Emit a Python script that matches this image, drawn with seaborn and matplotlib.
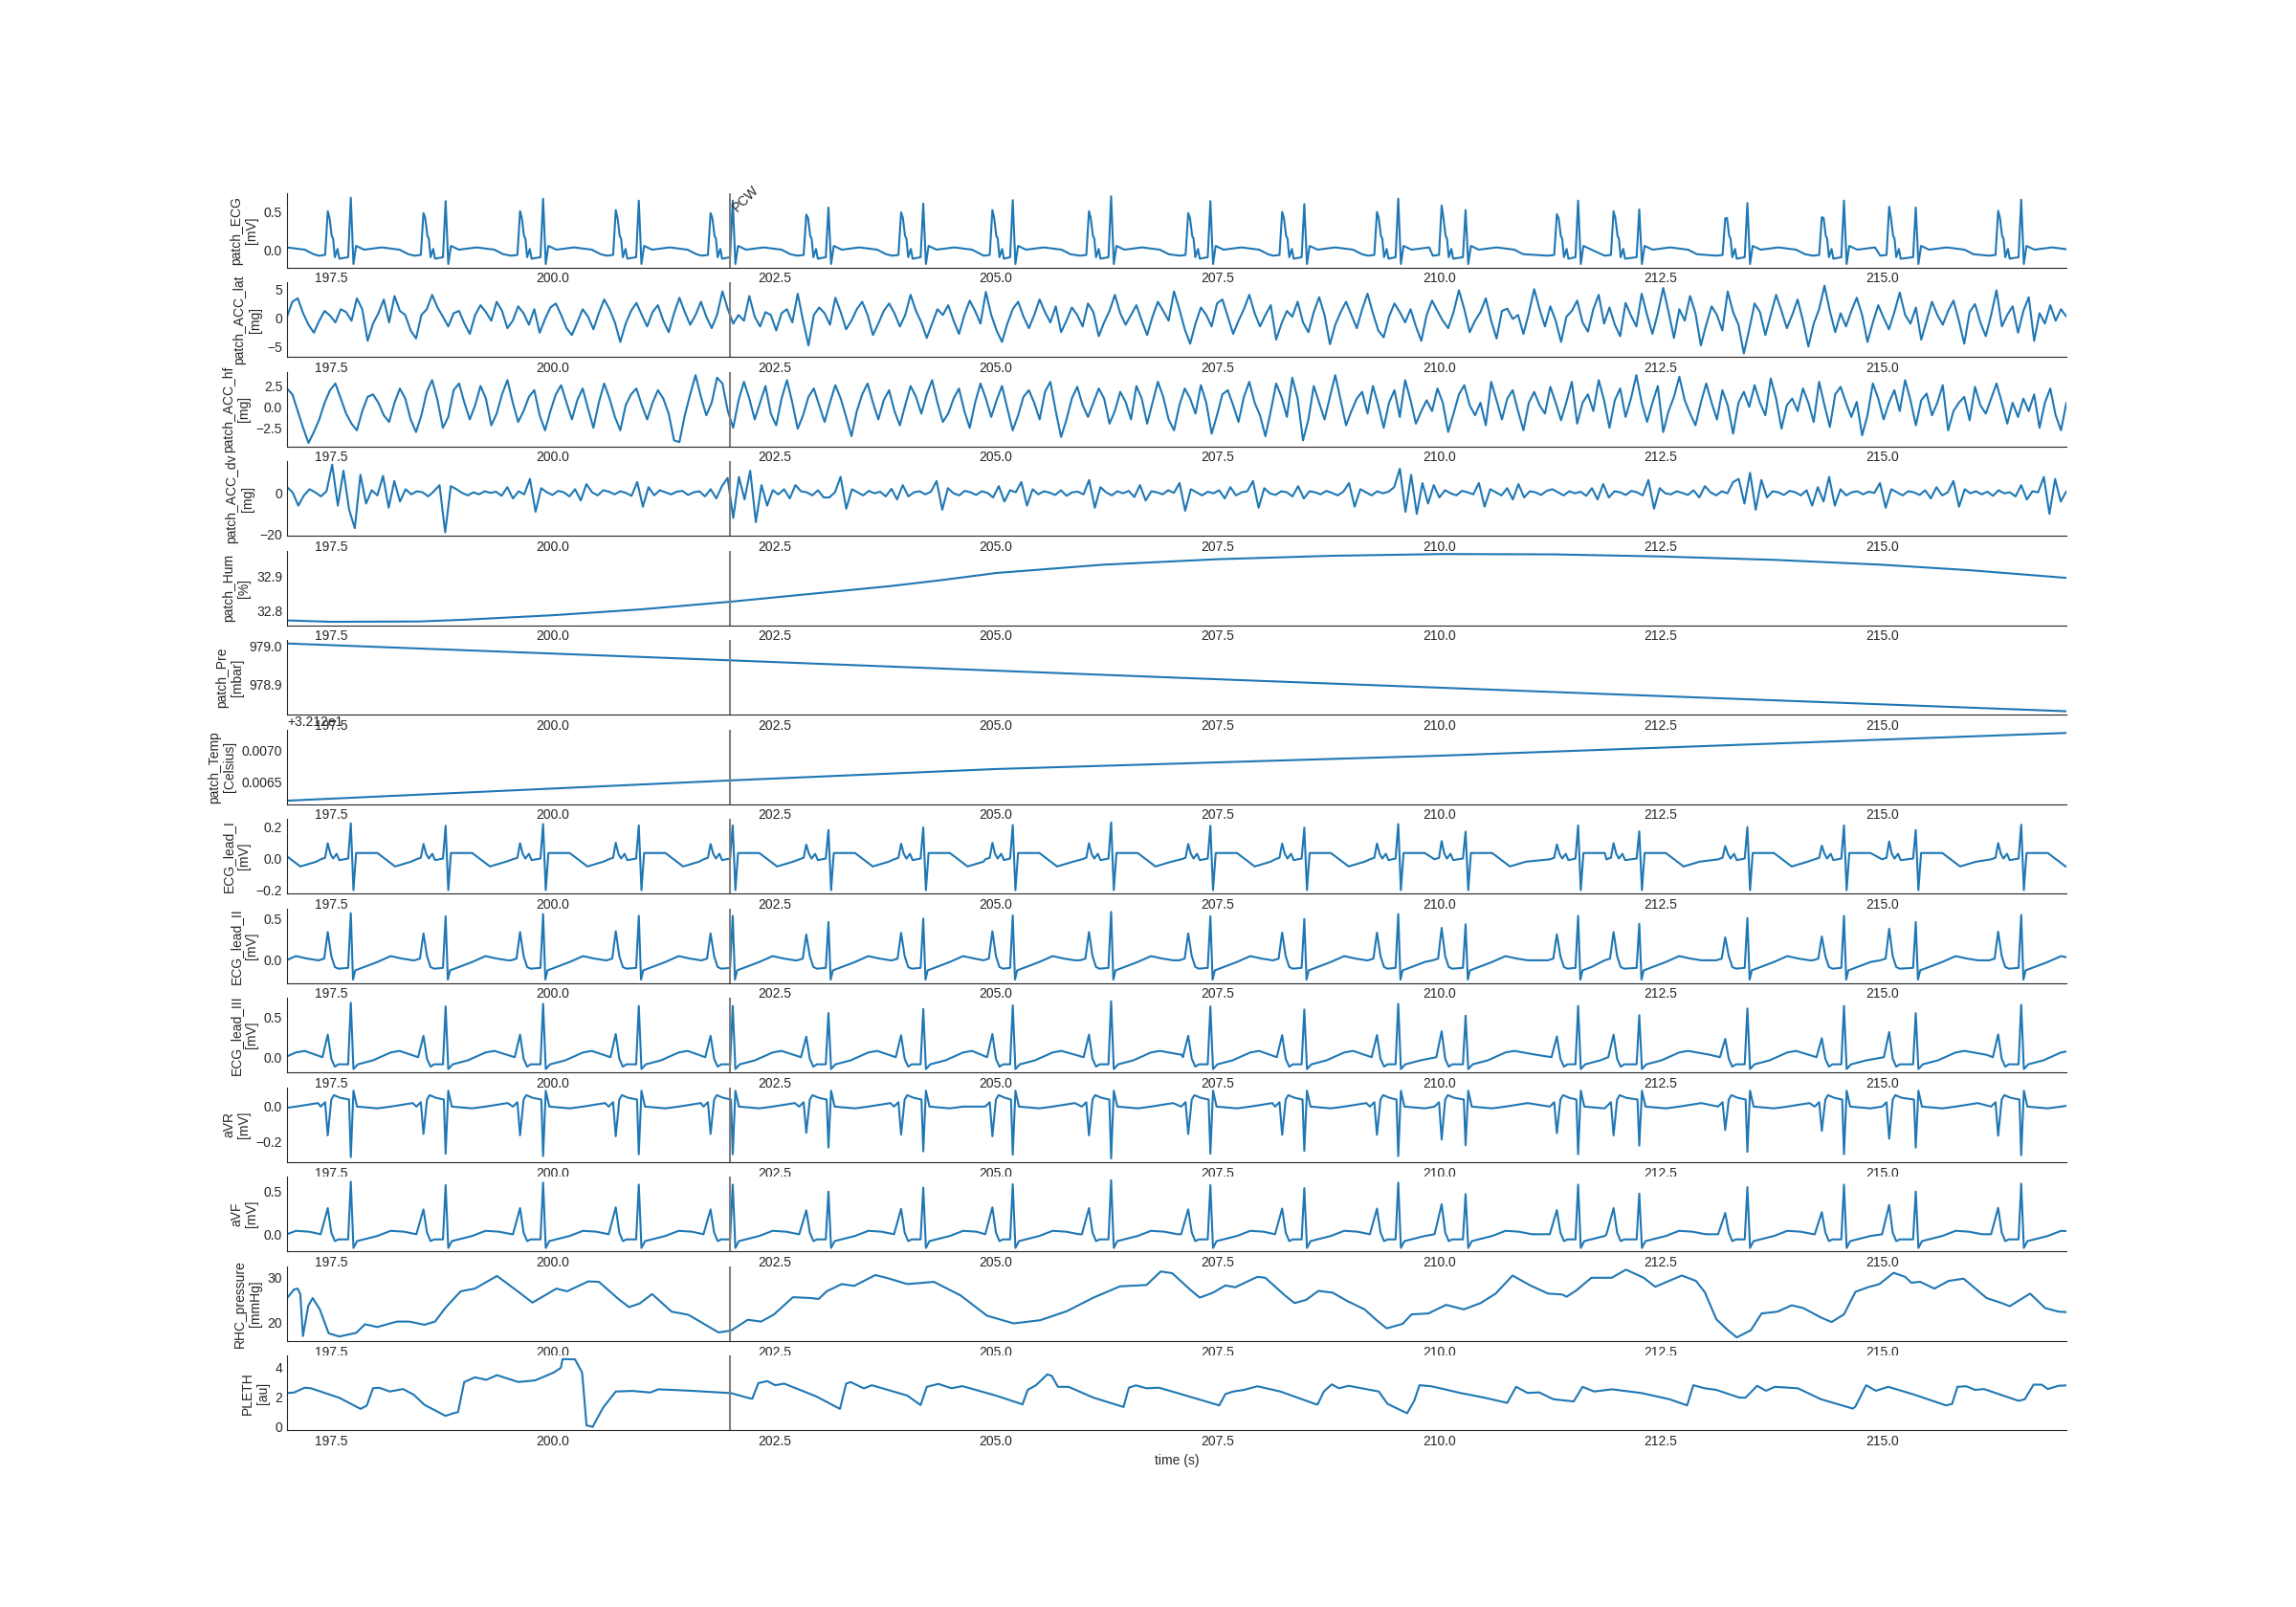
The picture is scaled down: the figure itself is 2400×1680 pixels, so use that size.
import numpy as np
import matplotlib
matplotlib.use("Agg")
import matplotlib.pyplot as plt
import seaborn as sns

# --- 1. DATA ---
X_START, X_END = 197.0, 217.08
PCW_T = 202.0

LABELS = ["patch_ECG\n[mV]", "patch_ACC_lat\n[mg]", "patch_ACC_hf\n[mg]", "patch_ACC_dv\n[mg]",
          "patch_Hum\n[%]", "patch_Pre\n[mbar]", "patch_Temp\n[Celsius]", "ECG_lead_I\n[mV]",
          "ECG_lead_II\n[mV]", "ECG_lead_III\n[mV]", "aVR\n[mV]", "aVF\n[mV]",
          "RHC_pressure\n[mmHg]", "PLETH\n[au]"]
Y_TICKS = [[0.0, 0.5], [-5, 0, 5], [-2.5, 0.0, 2.5], [-20, 0], [32.8, 32.9], [978.9, 979.0],
           [32.1265, 32.1270], [-0.2, 0.0, 0.2], [0.0, 0.5], [0.0, 0.5], [-0.2, 0.0], [0.0, 0.5],
           [20, 30], [0, 2, 4]]

# heart beats: broad wave and sharp spike times (s), with relative heights
BROAD_T = [196.40, 197.46, 198.54, 199.63, 200.71, 201.78, 202.86, 203.93, 204.96, 206.05,
           207.17, 208.23, 209.30, 210.03, 211.33, 211.97, 213.23, 214.32, 215.08, 216.31]
SPIKE_T = [196.65, 197.72, 198.79, 199.89, 200.97, 202.03, 203.11, 204.18, 205.19, 206.30,
           207.42, 208.48, 209.54, 210.30, 211.57, 212.26, 213.48, 214.57, 215.38, 216.57]
BROAD_GAIN = [1.0, 1.02, 0.97, 1.02, 1.05, 0.97, 0.93, 0.99, 1.05, 1.02,
              0.97, 1.0, 1.0, 1.17, 0.94, 1.02, 0.83, 0.86, 1.14, 1.03]
SPIKE_GAIN = [1.0, 1.06, 0.99, 1.04, 1.0, 1.0, 0.86, 0.94, 1.01, 1.09,
              0.99, 0.93, 1.04, 0.81, 1.0, 0.82, 0.95, 1.0, 0.86, 1.02]

# beat shapes per lead: (offset from wave time, mV)
PATCH_ECG_BROAD = [(-0.10, -0.08), (-0.03, -0.07), (0.0, 0.50), (0.02, 0.42), (0.045, 0.18),
                   (0.06, 0.15), (0.08, -0.10), (0.11, 0.01), (0.13, -0.12)]
PATCH_ECG_SPIKE = [(-0.03, -0.10), (0.0, 0.65), (0.03, -0.19), (0.06, 0.05), (0.15, 0.0),
                   (0.35, 0.03), (0.55, 0.0), (0.65, -0.06)]
LEAD_I_BROAD = [(-0.08, -0.005), (-0.03, 0.005), (0.0, 0.095), (0.03, 0.03), (0.06, 0.0),
                (0.10, 0.03), (0.13, -0.01)]
LEAD_I_SPIKE = [(-0.03, 0.0), (0.0, 0.21), (0.03, -0.20), (0.06, 0.035), (0.30, 0.035),
                (0.50, -0.05), (0.68, -0.02)]
LEAD_II_BROAD = [(-0.10, 0.0), (-0.04, 0.02), (0.0, 0.33), (0.04, 0.05), (0.08, -0.08), (0.12, -0.10)]
LEAD_II_SPIKE = [(-0.03, -0.09), (0.0, 0.53), (0.025, -0.23), (0.05, -0.12), (0.15, -0.08),
                 (0.30, -0.02), (0.45, 0.05), (0.58, 0.02), (0.70, 0.0)]
LEAD_III_BROAD = [(-0.06, 0.0), (0.0, 0.28), (0.04, -0.02), (0.08, -0.12), (0.12, -0.09)]
LEAD_III_SPIKE = [(-0.03, -0.09), (0.0, 0.65), (0.03, -0.15), (0.08, -0.09), (0.25, -0.04),
                  (0.45, 0.06), (0.55, 0.08), (0.80, 0.03)]
AVR_BROAD = [(-0.08, 0.0), (-0.03, 0.025), (0.0, -0.16), (0.04, 0.04), (0.07, 0.065), (0.14, 0.05)]
AVR_SPIKE = [(-0.02, 0.04), (0.0, -0.27), (0.03, 0.09), (0.07, 0.0), (0.30, -0.01),
             (0.45, 0.0), (0.70, 0.02)]
AVF_BROAD = [(-0.08, 0.0), (0.0, 0.30), (0.04, 0.02), (0.08, -0.08), (0.12, -0.06)]
AVF_SPIKE = [(-0.03, -0.06), (0.0, 0.58), (0.03, -0.16), (0.07, -0.08), (0.30, -0.02),
             (0.45, 0.04), (0.60, 0.03), (0.75, 0.0)]

# accelerometer samples, evenly spaced over the window
ACC_LAT = [0.2, 2.8, 3.4, 0.8, -1.2, -2.6, -0.5, 1.2, 0.4, -0.8, 1.5, 1.0, -0.5, 3.4, 1.5, -4.0,
           -1.0, 0.8, 3.2, -0.8, 3.8, 1.2, 0.5, -2.2, -3.6, 0.5, 1.5, 4.0, 1.8, 0.2, -1.5, 0.8,
           1.2, -1.0, -2.8, 0.5, 2.2, 1.0, -0.5, 2.8, 1.2, -1.8, -0.5, 2.0, 0.8, -1.2, 1.5, -2.6,
           -0.2, 1.8, 2.5, 0.5, -1.8, -3.0, -0.8, 1.5, 0.2, -2.0, 0.8, 3.2, 1.5, -0.8, -4.2, -1.0,
           1.2, 2.6, 0.5, -1.5, 1.0, 2.2, -0.5, -2.5, 0.8, 3.5, 1.0, -1.2, 0.5, 2.8, 0.2, -1.8,
           0.5, 4.6, 1.5, -1.0, 0.5, -0.5, 3.8, 0.2, -1.5, 1.0, 0.5, -2.2, 0.8, 1.5, -0.8, 4.2,
           -0.5, -4.8, 0.5, 1.8, 0.8, -1.2, 3.5, 1.0, -2.0, -0.5, 1.5, 2.8, 0.5, -3.0, -1.0, 1.2,
           2.5, 0.8, -1.5, 0.5, 4.0, 1.2, -0.8, -3.5, -1.0, 1.5, 0.5, 2.2, -0.5, -2.8, 0.5, 3.0,
           1.2, -1.0, 4.5, 0.5, -2.2, -4.2, -1.0, 1.5, 2.8, 0.2, -1.8, 0.5, 3.2, 1.0, -0.8, 2.0,
           -2.5, -0.5, 1.8, 0.5, -1.5, 2.5, 1.0, -3.2, -0.8, 1.2, 4.0, 0.8, -1.2, 0.5, 2.2, -0.5,
           -3.0, 0.2, 2.8, 1.2, -0.5, 4.6, 1.5, -2.0, -4.5, -1.0, 1.8, 0.5, -1.5, 2.5, 3.2, 0.2,
           -2.8, -0.5, 1.5, 4.0, 0.8, -1.5, 0.5, 2.2, -3.8, -1.0, 1.2, 0.2, 2.8, -0.8, -2.5, 1.0,
           3.6, 0.5, -4.6, -1.2, 1.0, 2.8, 0.5, -1.8, 1.5, 4.2, 0.8, -2.2, -3.4, 0.2, 2.5, 1.0,
           -0.8, 1.5, -1.5, -4.0, 0.5, 3.0, 1.2, -0.5, -1.8, 1.0, 4.8, 1.5, -2.5, -0.5, 1.0, 3.4,
           -0.5, -3.6, 1.2, 1.6, -0.2, 0.5, -2.8, 0.8, 5.0, 1.5, -1.5, 2.0, -0.5, -4.2, 0.2, 1.2,
           3.0, -0.8, -2.4, 1.5, 4.0, -1.0, 1.8, -1.2, -3.2, 2.6, 0.4, -1.5, 4.2, 0.5, -2.8, 0.8,
           5.2, 1.0, -3.5, 1.5, -0.5, 3.8, 0.8, -4.8, -1.2, 2.0, 0.5, -2.2, 4.6, 1.0, -1.2, -6.2,
           -2.0, 2.5, 1.0, -3.0, 0.5, 4.0, 1.2, -1.8, 0.5, 3.2, -0.5, -5.0, -1.0, 1.5, 5.6, 1.2,
           -2.5, 0.8, -1.5, 1.2, 3.5, 0.5, -4.2, -0.8, 2.2, 0.0, -2.0, 1.0, 4.4, 0.5, -1.0, 1.8,
           -3.8, -0.5, 2.8, 0.5, -1.2, 1.2, 3.0, -0.5, -4.5, 1.0, 2.4, -0.8, -3.2, 0.5, 4.8, -1.5,
           0.5, 2.0, -2.6, 1.2, 3.6, -4.0, 0.8, -1.0, 2.2, -0.5, 1.5, 0.2]
ACC_HF = [2.2, 1.5, -0.5, -2.5, -4.3, -3.0, -1.5, 0.5, 2.0, 2.8, 1.0, -0.8, -2.0, -2.8, -0.5, 1.2,
          1.5, 0.5, -1.0, -1.8, 0.5, 2.2, 1.0, -1.5, -3.0, -1.0, 1.8, 3.2, 0.8, -2.5, -1.2, 2.0,
          2.8, 0.5, -1.5, 0.2, 2.5, 1.0, -2.2, -0.8, 1.5, 3.2, 0.5, -1.8, -0.5, 1.2, 2.0, -1.0,
          -2.8, -0.5, 1.5, 2.6, 0.5, -1.5, 0.8, 2.2, -0.2, -2.5, 0.5, 2.8, 1.0, -1.2, -2.8, 0.2,
          1.5, 2.2, 0.2, -1.5, 0.5, 2.0, 1.0, -0.8, -4.0, -4.2, -1.0, 1.5, 3.8, 1.2, -1.0, 0.5,
          3.5, 2.8, -0.5, -2.5, 0.8, 3.0, 1.0, -1.5, 0.5, 2.5, -0.8, -2.2, 1.0, 3.2, 0.5, -2.6,
          -1.0, 1.2, 2.2, 0.2, -1.8, 0.5, 2.6, 1.0, -1.2, -3.5, -0.5, 1.5, 2.8, 0.5, -1.5, 0.8,
          2.0, -0.5, -2.2, 0.2, 2.5, 1.2, -0.8, 1.5, 3.2, 0.5, -1.8, -0.8, 1.0, 2.2, -0.5, -2.5,
          0.5, 2.8, 1.0, -1.2, 0.8, 2.5, -0.2, -2.8, -1.0, 1.2, 2.0, 0.5, -1.5, 1.8, 3.0, -0.5,
          -3.6, -1.5, 1.0, 2.4, 0.2, -1.2, 0.5, 2.2, 1.0, -2.0, -0.5, 1.8, 0.6, -1.5, 2.5, 1.0,
          -2.0, 0.5, 3.0, 1.2, -1.5, -2.8, 0.2, 2.2, 1.0, -0.8, 2.6, 0.5, -3.2, -1.0, 1.5, 2.0,
          0.2, -1.8, 1.2, 3.0, 0.5, -1.0, -3.5, -0.5, 2.8, 1.2, -1.2, 3.5, 1.0, -4.0, -1.5, 2.5,
          0.5, -1.5, 1.2, 3.8, 0.8, -2.2, -0.5, 1.0, 1.8, -0.8, 2.5, 0.2, -2.5, 0.5, 2.0, -1.2,
          3.2, 0.8, -2.0, -0.5, 0.8, -0.5, 2.2, 0.5, -3.0, -0.8, 1.5, 2.6, 0.2, -1.0, 0.5, -2.2,
          3.0, 0.8, -1.5, 1.0, 2.0, -0.5, -2.8, 0.5, 1.8, 0.2, -0.8, 2.4, 0.5, -1.6, 0.6, 3.0,
          -2.0, 0.5, 1.5, -0.5, 3.2, 0.8, -2.5, 0.8, 2.2, -1.2, 1.0, 3.8, 0.5, -1.8, 0.5, 2.5,
          -3.0, -0.5, 1.2, 3.6, 0.8, -0.8, -2.2, 0.5, 2.8, 0.5, -1.5, 2.0, 0.2, -3.2, 0.5, 1.8,
          0.0, 2.6, 0.5, -1.0, 3.4, 1.0, -2.6, 0.2, 1.0, -0.5, 2.2, 0.5, -1.8, 3.0, 0.2, -2.4,
          1.5, 2.4, 0.5, -1.2, 0.6, -3.4, -1.0, 2.8, 1.0, -1.5, 0.5, 2.0, -0.5, 3.2, 0.8, -2.2,
          0.8, 1.6, -1.0, 0.5, 2.6, -2.8, -0.5, 0.5, 1.2, -1.6, 2.4, 0.2, -0.8, 1.0, 2.8, 0.5,
          -2.0, 0.5, -1.2, 1.0, -0.5, 1.5, -2.5, 0.5, 2.2, -1.0, -2.8, 0.5]
ACC_DV = [3.0, 0.5, -6.0, -1.0, 2.0, 0.5, -1.5, 1.0, 14.0, -6.0, 11.0, -8.0, -17.0, 9.0, -5.0, 1.5,
          -1.0, 8.5, -7.0, 6.0, -4.0, 2.0, -0.5, 1.0, 0.5, -1.5, 1.0, 4.0, -19.0, 3.5, 2.0, 0.2,
          -1.0, 0.5, -0.5, 1.0, 0.2, 0.8, -1.2, 3.0, -2.5, 1.0, -0.5, 7.0, -9.0, 2.5, 0.5, -0.8,
          1.2, 0.5, -1.5, 2.0, -3.5, 4.5, 0.5, -1.0, 1.5, 0.8, -0.5, 1.0, 0.2, -1.2, 5.5, -6.5,
          3.0, -1.0, 1.5, 0.5, -0.5, 0.8, 1.2, -0.8, 0.5, 1.0, -1.5, 2.0, -2.5, 3.5, 7.5, -12.0,
          8.0, -3.0, 11.0, -14.0, 4.0, -6.0, 1.5, -0.5, 2.0, -2.5, 4.0, 1.0, 0.5, -1.0, 1.5, -2.0,
          -2.0, 0.5, 8.0, -7.5, 2.0, 0.5, -1.0, 1.2, 0.0, 0.8, -1.5, 2.2, -3.0, 4.0, -1.5, 0.5,
          1.0, -0.5, 0.8, 6.0, -8.0, 2.5, 0.0, -1.0, 1.2, 0.5, -0.8, 1.0, 0.2, -2.0, 3.5, -4.0,
          1.5, 0.5, 5.5, -6.0, 2.0, -0.5, 1.0, 0.3, -0.8, 1.5, -1.2, 0.5, 0.8, -0.5, 6.5, -7.0,
          3.0, 0.5, -1.0, 1.0, 0.0, 1.2, -1.8, 4.0, -3.5, 1.0, 0.5, -0.5, 1.5, 0.2, 5.0, -8.5,
          2.0, 0.5, -1.0, 0.8, 0.0, 1.5, -2.5, 3.0, -1.0, 0.5, 1.0, 6.0, -7.0, 2.5, 0.0, -0.8,
          1.0, 0.5, -1.5, 3.5, -2.5, 1.0, 0.5, -0.5, 1.2, 0.2, -1.0, 0.8, 5.0, -6.5, 2.0, 0.5,
          -1.0, 1.0, 0.0, 0.8, 3.0, 12.0, -9.0, 9.0, -10.0, 5.0, -5.0, 4.0, -2.0, 1.5, 0.0, -1.0,
          1.2, 0.5, -0.5, 5.0, -6.5, 2.0, 0.5, -1.0, 2.5, -3.0, 4.5, -2.0, 1.0, 0.5, -0.8, 1.2,
          2.0, 0.5, -1.0, 1.0, 0.0, 0.8, -1.2, 2.5, -3.0, 4.5, -2.0, 1.0, 0.5, -0.8, 1.2, 0.5,
          -1.0, 6.5, -7.5, 2.5, 0.0, -0.5, 1.0, 0.2, -0.8, 1.5, -2.0, 3.5, 0.5, -1.0, 1.0, 0.0,
          5.5, 7.0, -5.0, 10.0, -8.0, 6.5, -2.0, 1.0, 0.5, -0.8, 1.2, 0.5, -1.0, 1.5, -6.0, 3.0,
          -4.0, 8.0, -6.0, 2.0, -1.0, 0.5, 1.0, -0.5, 0.8, 0.2, 5.0, -7.0, 2.0, 0.5, -1.0, 1.0,
          0.5, -0.8, 1.5, -2.5, 3.0, -1.0, 0.5, 6.0, -6.5, 2.0, 0.0, 1.0, -0.5, 0.8, -1.2, 1.5,
          0.0, 0.5, -1.5, 4.0, -3.0, 1.0, 0.5, 8.0, -10.0, 7.0, -4.0, 1.0]

# slow patch sensors
HUM_T = [197.0, 197.5, 198.5, 199.0, 200.0, 201.0, 202.0, 203.8, 204.4, 205.0, 206.2, 207.5,
         208.8, 210.05, 211.3, 212.5, 213.8, 215.0, 216.0, 217.08]
HUM_V = [32.773, 32.769, 32.770, 32.775, 32.788, 32.805, 32.827, 32.872, 32.890, 32.910, 32.934, 32.950,
         32.960, 32.965, 32.964, 32.958, 32.948, 32.934, 32.918, 32.896]
PRE_T = [197.0, 202.0, 207.0, 212.0, 217.08]
PRE_V = [979.007, 978.963, 978.918, 978.874, 978.830]
TEMP_T = [197.0, 202.0, 205.0, 210.0, 217.08]
TEMP_V = [32.12620, 32.12652, 32.12670, 32.12691, 32.12727]

RHC_T = [197.0, 197.08, 197.12, 197.15, 197.18, 197.24, 197.29, 197.37, 197.47, 197.59, 197.78, 197.88,
         198.02, 198.24, 198.38, 198.55, 198.67, 198.79, 198.96, 199.12, 199.37, 199.61, 199.77, 200.04,
         200.16, 200.40, 200.52, 200.74, 200.86, 200.98, 201.12, 201.34, 201.53, 201.87, 202.01, 202.20,
         202.35, 202.49, 202.71, 202.92, 203.00, 203.09, 203.26, 203.40, 203.64, 203.78, 204.0, 204.3,
         204.6, 204.9, 205.2, 205.5, 205.8, 206.1, 206.4, 206.7, 206.86, 206.99, 207.19, 207.30, 207.45,
         207.59, 207.70, 207.95, 208.04, 208.26, 208.37, 208.50, 208.64, 208.80, 208.96, 209.16, 209.29,
         209.41, 209.59, 209.69, 209.88, 210.08, 210.28, 210.47, 210.64, 210.83, 211.03, 211.23, 211.39,
         211.44, 211.55, 211.72, 211.95, 212.11, 212.31, 212.44, 212.74, 212.90, 213.0, 213.13, 213.26,
         213.36, 213.52, 213.64, 213.82, 213.98, 214.11, 214.31, 214.43, 214.57, 214.70, 214.84, 214.97,
         215.13, 215.26, 215.33, 215.43, 215.59, 215.75, 215.92, 216.18, 216.35, 216.44, 216.67, 216.84,
         216.99, 217.08]
RHC_V = [25.4, 27.3, 27.5, 26.3, 17.0, 23.7, 25.4, 22.9, 17.6, 16.9, 17.7, 19.6,
         19.0, 20.2, 20.2, 19.5, 20.2, 23.3, 26.9, 27.5, 30.3, 26.8, 24.4, 27.5,
         26.9, 29.1, 29.0, 25.2, 23.4, 24.2, 26.3, 22.4, 21.7, 17.8, 18.2, 20.6,
         20.2, 21.7, 25.6, 25.4, 25.2, 26.9, 28.5, 28.1, 30.5, 29.8, 28.5, 29.0,
         26.0, 21.5, 19.8, 20.5, 22.5, 25.5, 28.0, 28.3, 31.3, 30.9, 27.3, 25.5, 26.6,
         28.2, 27.8, 30.1, 29.9, 26.0, 24.3, 25.0, 27.0, 26.6, 24.8, 22.9, 20.6,
         18.7, 19.7, 21.8, 22.0, 23.9, 22.9, 24.3, 26.4, 30.4, 28.2, 26.4, 26.2,
         25.7, 27.1, 29.9, 29.9, 31.7, 29.9, 27.9, 30.4, 29.2, 26.7, 20.7, 18.3,
         16.7, 18.3, 22.0, 22.4, 23.8, 23.2, 21.1, 20.1, 21.8, 26.8, 27.8, 28.5,
         31.0, 30.1, 28.8, 29.0, 27.5, 29.2, 29.7, 25.4, 24.3, 23.6, 26.4, 23.2,
         22.4, 22.3]

PLETH_T = [197.0, 197.08, 197.2, 197.27, 197.59, 197.83, 197.90, 197.97, 198.04, 198.16, 198.31, 198.43,
           198.55, 198.79, 198.86, 198.93, 199.0, 199.12, 199.25, 199.37, 199.61, 199.80, 200.01, 200.09,
           200.11, 200.25, 200.33, 200.35, 200.38, 200.45, 200.50, 200.57, 200.71, 200.90, 201.10, 201.19,
           201.53, 202.01, 202.20, 202.25, 202.32, 202.42, 202.51, 202.61, 202.97, 203.24, 203.31, 203.36,
           203.51, 203.60, 203.78, 204.0, 204.15, 204.22, 204.35, 204.5, 204.62, 205.0, 205.3, 205.36,
           205.45, 205.58, 205.63, 205.70, 205.82, 206.10, 206.44, 206.50, 206.58, 206.70, 206.84, 206.96,
           207.52, 207.59, 207.68, 207.80, 207.95, 208.21, 208.60, 208.63, 208.70, 208.79, 208.87, 208.98,
           209.32, 209.42, 209.64, 209.72, 209.78, 209.91, 210.05, 210.24, 210.51, 210.77, 210.87, 211.0,
           211.13, 211.29, 211.52, 211.62, 211.75, 211.95, 212.28, 212.60, 212.80, 212.87, 213.0, 213.13,
           213.39, 213.46, 213.59, 213.69, 213.79, 214.05, 214.31, 214.67, 214.70, 214.82, 214.93, 215.07,
           215.36, 215.72, 215.79, 215.85, 215.95, 216.05, 216.15, 216.54, 216.61, 216.71, 216.80, 216.87,
           216.99, 217.08]
PLETH_V = [2.27, 2.31, 2.64, 2.6, 1.95, 1.19, 1.41, 2.6, 2.64, 2.38, 2.55, 2.16,
           1.47, 0.71, 0.86, 0.97, 3.03, 3.35, 3.18, 3.5, 3.03, 3.14, 3.68, 4.0,
           4.6, 4.58, 3.68, 2.27, 0.06, -0.04, 0.54, 1.3, 2.38, 2.42, 2.31, 2.53,
           2.44, 2.27, 1.95, 1.88, 2.96, 3.09, 2.81, 2.92, 2.05, 1.19, 2.92, 3.03,
           2.59, 2.81, 2.49, 2.1, 1.45, 2.7, 2.9, 2.6, 2.75, 2.1, 1.5, 2.5,
           2.8, 3.55, 3.45, 2.7, 2.7, 1.96, 1.32, 2.64, 2.8, 2.6, 2.64, 2.43,
           1.43, 2.21, 2.38, 2.49, 2.74, 2.38, 1.53, 1.49, 2.38, 2.87, 2.6, 2.77,
           2.38, 1.53, 0.89, 1.74, 2.81, 2.74, 2.55, 2.28, 1.96, 1.6, 2.7, 2.28,
           2.32, 1.85, 1.70, 2.70, 2.38, 2.53, 2.28, 1.85, 1.43, 2.81, 2.6, 2.49,
           1.96, 1.96, 2.77, 2.43, 2.7, 2.6, 1.85, 1.21, 1.36, 2.81, 2.43, 2.7,
           2.17, 1.43, 1.53, 2.7, 2.74, 2.49, 2.55, 1.74, 1.85, 2.85, 2.85, 2.55,
           2.77, 2.8]


def ecg_trace(broad_shape, spike_shape):
    """Place the read-off beat shapes at every beat time."""
    ts, vs = [], []
    for i, (b, s) in enumerate(zip(BROAD_T, SPIKE_T)):
        next_b = BROAD_T[i + 1] if i + 1 < len(BROAD_T) else np.inf
        for off, val in broad_shape:
            if b + off < s - 0.035:
                ts.append(b + off)
                vs.append(val * BROAD_GAIN[i] if off == 0 else val)
        for off, val in spike_shape:
            if s + off < next_b + broad_shape[0][0] - 0.005:
                ts.append(s + off)
                vs.append(val * SPIKE_GAIN[i] if off == 0 else val)
    return ts, vs


def acc_trace(vals):
    return list(np.linspace(X_START, X_END, len(vals))), vals


# --- 2. PLOT ---
sns.set_style("white")
plt.rcParams["font.family"] = ["Liberation Sans", "DejaVu Sans"]
plt.rcParams["xtick.major.size"] = 0
plt.rcParams["ytick.major.size"] = 0

series = [
    ecg_trace(PATCH_ECG_BROAD, PATCH_ECG_SPIKE),
    acc_trace(ACC_LAT),
    acc_trace(ACC_HF),
    acc_trace(ACC_DV),
    (HUM_T, HUM_V),
    (PRE_T, PRE_V),
    (TEMP_T, TEMP_V),
    ecg_trace(LEAD_I_BROAD, LEAD_I_SPIKE),
    ecg_trace(LEAD_II_BROAD, LEAD_II_SPIKE),
    ecg_trace(LEAD_III_BROAD, LEAD_III_SPIKE),
    ecg_trace(AVR_BROAD, AVR_SPIKE),
    ecg_trace(AVF_BROAD, AVF_SPIKE),
    (RHC_T, RHC_V),
    (PLETH_T, PLETH_V),
]

fig, axes = plt.subplots(len(series), 1, figsize=(24, 16.8))
for ax, (t, v), label, yt in zip(axes, series, LABELS, Y_TICKS):
    sns.lineplot(x=t, y=v, ax=ax, sort=False, linewidth=1.5)
    ax.axvline(PCW_T, color="grey", linewidth=1.5)
    ax.set_xlim(X_START, X_END)
    ax.set_yticks(yt)
    ax.set_ylabel(label)
    sns.despine(ax=ax)

axes[0].text(PCW_T, 0.5, "PCW", rotation=45, fontsize=10, color=".15")
axes[-1].set_xlabel("time (s)")

fig.savefig("out.png", dpi=100)
